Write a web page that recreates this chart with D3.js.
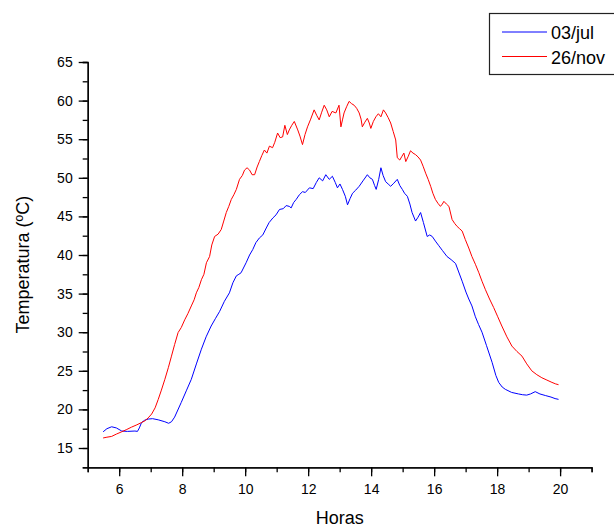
<!DOCTYPE html>
<html>

<head>
  <meta charset="utf-8">
  <style>
    body {
      margin: 0;
      background: #fff;
      font-family: "Liberation Sans", Arial, sans-serif;
    }

    .axis path,
    .axis line {
      stroke: #000;
      stroke-width: 1.3px;
    }

    .axis text {
      font-family: "Liberation Sans", Arial, sans-serif;
      font-size: 14px;
      fill: #000;
    }

    .series {
      fill: none;
      stroke-width: 1px;
    }
  </style>
</head>

<body>
  <svg id="chart" width="614" height="527"></svg>

  <script src="https://d3js.org/d3.v7.min.js"></script>
  <script>
    // 03/jul (blue)
    var julHours = [5.49, 5.61, 5.76, 5.91, 6.08, 6.26, 6.5, 6.58, 6.64, 6.71, 6.81, 6.92, 7.06, 7.24, 7.45, 7.57, 7.66, 7.76,
      7.97, 8.13, 8.29, 8.46, 8.61, 8.76, 8.92, 9.06, 9.19, 9.34, 9.5, 9.61, 9.72, 9.8, 9.87, 10.03, 10.14, 10.24, 10.34,
      10.45, 10.56, 10.67, 10.76, 10.88, 10.98, 11.09, 11.21, 11.3, 11.4, 11.46, 11.54, 11.62, 11.72, 11.82, 11.91, 12.04,
      12.16, 12.26, 12.35, 12.46, 12.56, 12.67, 12.77, 12.86, 12.93, 13.01, 13.09, 13.18, 13.25, 13.33, 13.41, 13.51,
      13.62, 13.74, 13.88, 13.96, 14.04, 14.11, 14.16, 14.24, 14.31, 14.38, 14.46, 14.54, 14.62, 14.72, 14.83, 14.91,
      14.99, 15.06, 15.15, 15.23, 15.3, 15.41, 15.49, 15.57, 15.66, 15.78, 15.86, 15.94, 16.04, 16.15, 16.26, 16.41,
      16.54, 16.68, 16.78, 16.89, 17.01, 17.1, 17.2, 17.31, 17.41, 17.52, 17.66, 17.84, 17.96, 18.05, 18.16, 18.26,
      18.46, 18.68, 18.81, 18.94, 19.06, 19.21, 19.36, 19.53, 19.71, 19.84, 19.95];
    var julTemps = [17.1, 17.5, 17.75, 17.6, 17.2, 17.15, 17.2, 17.15, 17.6, 18.3, 18.6, 18.75, 18.8, 18.65, 18.4, 18.2, 18.4, 19.0,
      20.9, 22.4, 23.9, 26.0, 27.8, 29.4, 30.8, 31.8, 32.7, 34.0, 35.1, 36.4, 37.3, 37.5, 37.7, 39.0, 40.0, 40.7, 41.6,
      42.2, 42.6, 43.5, 44.2, 44.8, 45.2, 45.9, 46.0, 46.4, 46.3, 46.1, 46.8, 47.2, 47.8, 48.2, 48.1, 48.7,
      48.6, 49.4, 50.0, 49.6, 50.4, 49.8, 50.2, 49.4, 48.7, 49.2, 48.5, 47.6, 46.5, 47.3, 48.0, 48.4,
      48.9, 49.6, 50.4, 50.0, 49.8, 49.0, 48.5, 49.8, 51.3, 50.3, 49.5, 49.2, 48.9, 49.3, 49.8, 49.0,
      48.5, 48.0, 47.6, 46.6, 45.5, 44.4, 44.9, 45.5, 44.2, 42.4, 42.6, 42.4, 41.8, 41.2, 40.6, 39.8,
      39.4, 38.9, 37.8, 36.6, 35.2, 34.3, 33.4, 32.0, 31.0, 30.0, 28.3, 26.1, 24.4, 23.5, 22.9, 22.6,
      22.2, 22.0, 21.9, 21.85, 22.0, 22.3, 22.0, 21.8, 21.6, 21.4, 21.3];

    // 26/nov (red)
    var novHours = [5.49, 5.61, 5.76, 5.91, 6.08, 6.24, 6.39, 6.56, 6.71, 6.81, 6.92, 7.03, 7.14, 7.24, 7.34, 7.45, 7.56, 7.66,
      7.76, 7.87, 7.97, 8.08, 8.18, 8.29, 8.38, 8.45, 8.53, 8.61, 8.69, 8.77, 8.87, 8.94, 9.03, 9.14, 9.24, 9.32, 9.4,
      9.48, 9.56, 9.64, 9.72, 9.82, 9.91, 9.98, 10.06, 10.14, 10.22, 10.3, 10.38, 10.45, 10.53, 10.61, 10.69, 10.77,
      10.87, 10.94, 11.03, 11.11, 11.19, 11.26, 11.34, 11.4, 11.48, 11.56, 11.67, 11.74, 11.82, 11.9, 11.98, 12.08,
      12.19, 12.27, 12.35, 12.43, 12.51, 12.59, 12.67, 12.76, 12.88, 12.98, 13.04, 13.09, 13.14, 13.22, 13.3, 13.38,
      13.46, 13.54, 13.62, 13.68, 13.72, 13.8, 13.88, 13.94, 13.99, 14.07, 14.15, 14.23, 14.31, 14.39, 14.46, 14.54,
      14.62, 14.7, 14.78, 14.83, 14.91, 14.98, 15.04, 15.1, 15.18, 15.25, 15.33, 15.41, 15.49, 15.57, 15.65, 15.73,
      15.81, 15.89, 15.96, 16.04, 16.12, 16.2, 16.26, 16.31, 16.39, 16.47, 16.57, 16.65, 16.73, 16.81, 16.89, 16.99,
      17.1, 17.2, 17.31, 17.42, 17.52, 17.63, 17.76, 17.89, 18.02, 18.15, 18.31, 18.47, 18.63, 18.79, 18.94, 19.1,
      19.26, 19.42, 19.58, 19.74, 19.86, 19.95];
    var novTemps = [16.3, 16.4, 16.5, 16.8, 17.1, 17.4, 17.7, 18.0, 18.3, 18.5, 18.9, 19.4, 20.2, 21.3, 22.5, 23.9, 25.4, 26.9,
      28.4, 29.95, 30.6, 31.6, 32.4, 33.4, 34.2, 35.1, 35.8, 36.8, 37.5, 39.0, 39.8, 41.3, 42.4, 42.7, 43.3, 44.4, 45.5,
      46.3, 47.2, 47.8, 48.5, 49.8, 50.3, 51.0, 51.3, 51.0, 50.4, 50.4, 51.4, 52.1, 52.9, 53.6, 53.2, 54.1,
      53.9, 54.6, 55.8, 55.2, 55.3, 56.8, 55.6, 56.2, 56.8, 57.3, 56.2, 55.4, 54.3, 55.6, 56.6, 57.6,
      58.8, 58.1, 57.5, 58.5, 59.4, 58.8, 57.9, 58.6, 58.4, 59.4, 56.6, 57.5, 58.4, 59.2, 59.9, 59.6,
      59.4, 59.0, 58.4, 57.6, 56.6, 57.2, 57.7, 57.1, 56.4, 57.3, 57.9, 58.3, 57.9, 58.8, 58.4, 57.8,
      57.1, 56.0, 54.9, 52.6, 52.3, 52.8, 53.2, 52.1, 52.8, 53.5, 53.2, 53.0, 52.7, 52.3, 51.5, 50.6,
      49.8, 48.9, 48.0, 47.2, 46.7, 46.3, 46.6, 46.95, 46.6, 46.3, 44.6, 44.1, 43.7, 43.4, 43.1, 42.0,
      40.9, 39.8, 38.8, 37.7, 36.6, 35.5, 34.3, 33.2, 32.0, 30.8, 29.4, 28.2, 27.5, 26.9, 25.9, 25.0,
      24.5, 24.1, 23.8, 23.5, 23.3, 23.2];

    var seriesNames = ['03/jul', '26/nov'];
    var seriesColors = ['#0000ff', '#ff0000'];
    var xTicks = [6, 8, 10, 12, 14, 16, 18, 20];
    var yTicks = [15, 20, 25, 30, 35, 40, 45, 50, 55, 60, 65];

    var margin = { left: 87.7, right: 22.4, top: 62, bottom: 59.7 },
      width = 614,
      height = 527;

    var svg = d3.select('#chart');

    var x = d3.scaleLinear()
      .domain([5, 21])
      .range([margin.left, width - margin.right]);

    var y = d3.scaleLinear()
      .domain([12.5, 65])
      .range([height - margin.bottom, margin.top]);

    // minor ticks first, major on top
    svg.append('g')
      .attr('class', 'axis')
      .attr('transform', 'translate(0,' + y(12.5) + ')')
      .call(d3.axisBottom(x).tickValues(d3.range(5, 22, 1)).tickSize(5).tickFormat(''));
    svg.append('g')
      .attr('class', 'axis')
      .attr('transform', 'translate(0,' + y(12.5) + ')')
      .call(d3.axisBottom(x).tickValues(xTicks).tickSize(9).tickPadding(8).tickSizeOuter(0).tickFormat(d3.format('d')));

    svg.append('g')
      .attr('class', 'axis')
      .attr('transform', 'translate(' + x(5) + ',0)')
      .call(d3.axisLeft(y).tickValues(d3.range(12.5, 65.1, 2.5)).tickSize(5).tickFormat(''));
    svg.append('g')
      .attr('class', 'axis')
      .attr('transform', 'translate(' + x(5) + ',0)')
      .call(d3.axisLeft(y).tickValues(yTicks).tickSize(9).tickPadding(6).tickSizeOuter(0).tickFormat(d3.format('d')));

    var line = d3.line()
      .x(d => x(d[0]))
      .y(d => y(d[1]));

    var series = [
      d3.zip(julHours, julTemps),
      d3.zip(novHours, novTemps)
    ];

    svg.selectAll('path.series')
      .data(series)
      .join('path')
      .attr('class', 'series')
      .attr('stroke', (d, i) => seriesColors[i])
      .attr('d', line);

    // axis titles
    svg.append('text')
      .attr('x', (x(5) + x(21)) / 2)
      .attr('y', 524)
      .attr('text-anchor', 'middle')
      .style('font-size', '18px')
      .text('Horas');

    svg.append('text')
      .attr('transform', 'translate(29,' + ((y(12.5) + y(65)) / 2) + ') rotate(-90)')
      .attr('text-anchor', 'middle')
      .style('font-size', '18px')
      .text('Temperatura (ºC)');

    // legend
    var legend = svg.append('g');
    legend.append('rect')
      .attr('x', 489.5)
      .attr('y', 13.5)
      .attr('width', 140)
      .attr('height', 61)
      .attr('fill', '#fff')
      .attr('stroke', '#222')
      .attr('stroke-width', 1.2);

    var items = legend.selectAll('g.item')
      .data(seriesNames)
      .join('g')
      .attr('class', 'item')
      .attr('transform', (d, i) => 'translate(0,' + (32 + i * 24.5) + ')');
    items.append('line')
      .attr('x1', 502)
      .attr('x2', 547)
      .attr('stroke', (d, i) => seriesColors[i]);
    items.append('text')
      .attr('x', 551)
      .attr('y', 7)
      .style('font-size', '18px')
      .text(d => d);
  </script>
</body>

</html>
